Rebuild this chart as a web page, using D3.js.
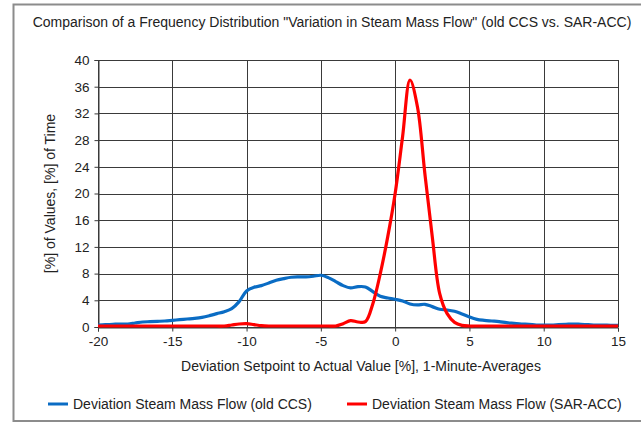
<!DOCTYPE html>
<html>
<head>
<meta charset="utf-8">
<script src="https://cdn.jsdelivr.net/npm/d3@7"></script>
<style>
  body { margin: 0; background: #fff; }
  text { font-family: "Liberation Sans", Arial, sans-serif; fill: #222; }
</style>
</head>
<body>
<svg class="chart"></svg>
<script>
var width = 641,
    height = 423;

// deviation bins, [%]
var deviation = d3.range(-20, 15.001, 0.5);

// old CCS, [%] of time
var oldCCS = [
  0.3, 0.35, 0.4, 0.45, 0.45, 0.6, 0.75, 0.8, 0.85, 0.9,
  1.0, 1.1, 1.2, 1.3, 1.45, 1.7, 2.0, 2.3, 2.75, 3.8,
  5.4, 5.95, 6.2, 6.6, 7.0, 7.25, 7.45, 7.5, 7.5, 7.6,
  7.75, 7.4, 6.8, 6.2, 5.85, 6.05, 6.0, 5.3, 4.6, 4.35,
  4.15, 3.9, 3.45, 3.3, 3.4, 3.05, 2.65, 2.55, 2.35, 1.95,
  1.5, 1.15, 1.0, 0.9, 0.8, 0.65, 0.55, 0.45, 0.4, 0.3,
  0.3, 0.3, 0.35, 0.4, 0.45, 0.4, 0.35, 0.3, 0.3, 0.25,
  0.25
];

// SAR-ACC, [%] of time
var sarACC = [
  0.15, 0.15, 0.15, 0.15, 0.15, 0.15, 0.15, 0.15, 0.15, 0.15,
  0.15, 0.15, 0.15, 0.15, 0.15, 0.15, 0.15, 0.15, 0.3, 0.45,
  0.5, 0.35, 0.2, 0.15, 0.15, 0.15, 0.15, 0.15, 0.15, 0.15,
  0.15, 0.15, 0.15, 0.5, 0.95, 0.75, 0.8, 3.5, 8.0, 13.5,
  20.0, 28.5, 37.0, 33.0, 23.0, 13.5, 5.0, 2.0, 0.7, 0.25,
  0.15, 0.15, 0.15, 0.15, 0.15, 0.15, 0.15, 0.15, 0.15, 0.15,
  0.15, 0.15, 0.15, 0.15, 0.15, 0.15, 0.15, 0.15, 0.15, 0.15,
  0.15
];

var xTicks = [-20, -15, -10, -5, 0, 5, 10, 15];
var yTicks = [0, 4, 8, 12, 16, 20, 24, 28, 32, 36, 40];

var seriesNames = ["Deviation Steam Mass Flow (old CCS)", "Deviation Steam Mass Flow (SAR-ACC)"];
var seriesColors = ["#0a6cc4", "#ff0000"];

var margin = {left: 98, right: 23, top: 60, bottom: 96};

var svg = d3.select(".chart")
            .attr("width", width)
            .attr("height", height);

// outer frame
svg.append("rect")
   .attr("x", 13.5).attr("y", 4.5)
   .attr("width", 640).attr("height", 416.5)
   .attr("fill", "none")
   .attr("stroke", "#8c8c8c")
   .attr("stroke-width", 2);

var x = d3.scaleLinear().domain([-20, 15]).range([margin.left, width - margin.right]);
var y = d3.scaleLinear().domain([0, 40]).range([height - margin.bottom, margin.top]);

// grid
svg.append("g").selectAll("line").data(yTicks).enter()
   .append("line")
   .attr("x1", x(-20)).attr("x2", x(15))
   .attr("y1", function(d){ return Math.round(y(d)) + 0.5; })
   .attr("y2", function(d){ return Math.round(y(d)) + 0.5; })
   .attr("stroke", "#3a3a3a").attr("stroke-width", 1);

svg.append("g").selectAll("line").data(xTicks).enter()
   .append("line")
   .attr("y1", y(0)).attr("y2", y(40))
   .attr("x1", function(d){ return Math.round(x(d)) + 0.5; })
   .attr("x2", function(d){ return Math.round(x(d)) + 0.5; })
   .attr("stroke", "#3a3a3a").attr("stroke-width", 1);

// axes (plain hyphen for negatives, like the original)
var xAxis = d3.axisBottom(x).tickValues(xTicks).tickFormat(String).tickSize(4).tickPadding(5);
var yAxis = d3.axisLeft(y).tickValues(yTicks).tickFormat(String).tickSize(4).tickPadding(5);

var gx = svg.append("g")
   .attr("transform", "translate(0," + (Math.round(y(0)) + 0.5) + ")")
   .call(xAxis);
var gy = svg.append("g")
   .attr("transform", "translate(" + (Math.round(x(-20)) + 0.5) + ",0)")
   .call(yAxis);

[gx, gy].forEach(function(g){
  g.select(".domain").attr("stroke", "#3a3a3a");
  g.selectAll(".tick line").attr("stroke", "#3a3a3a");
  g.selectAll(".tick text")
   .attr("font-family", "Liberation Sans, Arial, sans-serif")
   .attr("font-size", 13.5)
   .attr("fill", "#222");
});

// lines
var line = d3.line()
  .x(function(d){ return x(d[0]); })
  .y(function(d){ return y(d[1]); })
  .curve(d3.curveCatmullRom.alpha(0.5));

[oldCCS, sarACC].forEach(function(vals, i){
  svg.append("path")
     .datum(deviation.map(function(d, j){ return [d, vals[j]]; }))
     .attr("fill", "none")
     .attr("stroke", seriesColors[i])
     .attr("stroke-width", 3.2)
     .attr("stroke-linejoin", "round")
     .attr("d", line);
});

// titles
svg.append("text")
   .attr("x", 332).attr("y", 27)
   .attr("text-anchor", "middle")
   .attr("font-size", 14)
   .text('Comparison of a Frequency Distribution "Variation in Steam Mass Flow" (old CCS vs. SAR-ACC)');

svg.append("text")
   .attr("x", 361).attr("y", 371)
   .attr("text-anchor", "middle")
   .attr("font-size", 14)
   .text("Deviation Setpoint to Actual Value [%], 1-Minute-Averages");

svg.append("text")
   .attr("transform", "translate(55," + ((y(0) + y(40)) / 2) + ") rotate(-90)")
   .attr("text-anchor", "middle")
   .attr("font-size", 14)
   .text("[%] of Values, [%] of Time");

// legend
var legendX = [48, 347];
var legend = svg.append("g").selectAll("g").data(seriesNames).enter()
   .append("g")
   .attr("transform", function(d, i){ return "translate(" + legendX[i] + ",404)"; });

legend.append("line")
   .attr("x1", 0).attr("x2", 20)
   .attr("stroke", function(d, i){ return seriesColors[i]; })
   .attr("stroke-width", 3);

legend.append("text")
   .attr("x", 25).attr("dy", "0.35em")
   .attr("font-size", 14)
   .text(function(d){ return d; });
</script>
</body>
</html>
